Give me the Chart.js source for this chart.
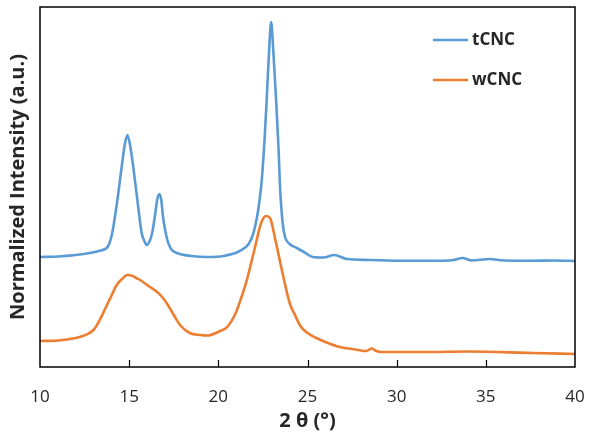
<!DOCTYPE html>
<html>
<head>
<meta charset="utf-8">
<script src="https://cdn.jsdelivr.net/npm/chart.js@4.4.1/dist/chart.umd.min.js"></script>
<style>
  html, body { margin: 0; padding: 0; background: #fff; }
  #wrap { width: 590px; height: 438px; }
</style>
</head>
<body>
<div id="wrap"><canvas id="xrdChart"></canvas></div>
<script>
// XRD patterns ‚Äî values (offset, arbitrary units)
const tcncTheta = [10.0, 11.0, 12.0, 12.8, 13.4, 13.74, 13.9, 14.05, 14.34, 14.58, 14.75, 14.9, 15.05, 15.23, 15.46, 15.7, 15.85, 15.98, 16.15, 16.3, 16.45, 16.58, 16.69, 16.8, 16.9, 17.14, 17.35, 17.67, 18.5, 19.4, 20.3, 21.2, 21.7, 21.95, 22.15, 22.3, 22.45, 22.6, 22.71, 22.85, 22.96, 23.08, 23.24, 23.38, 23.46, 23.6, 23.74, 24.0, 24.4, 24.8, 25.3, 25.9, 26.5, 27.2, 28.5, 30.2, 32.6, 33.2, 33.7, 34.2, 35.2, 36.0, 37.6, 38.8, 40.0];
const tcncIntensity = [110, 110.5, 112, 114, 116.5, 119, 124, 134, 167, 200, 222, 232, 222, 200, 167, 134, 126, 122, 126, 135, 152, 168, 173, 167, 150, 127, 118, 114, 111, 110, 111, 116, 123, 133, 148, 165, 190, 230, 267, 317, 345, 317, 267, 217, 180, 145, 130, 123, 119, 115, 110, 109.5, 112, 108, 107, 106.3, 106.3, 107, 109, 106.5, 108, 106.5, 106.3, 106.5, 106];

const wcncTheta = [10.0, 11.0, 12.0, 12.4, 13.0, 13.35, 13.7, 14.0, 14.3, 14.6, 14.9, 15.2, 15.4, 15.7, 16.0, 16.5, 16.8, 17.1, 17.5, 17.85, 18.4, 19.0, 19.4, 20.1, 20.5, 21.0, 21.3, 21.6, 22.06, 22.4, 22.68, 22.9, 23.2, 23.6, 24.0, 24.3, 24.6, 25.0, 25.5, 26.0, 26.8, 27.5, 28.3, 28.6, 28.8, 29.1, 32.0, 33.9, 37.6, 40.0];
const wcncIntensity = [26, 26.5, 29, 31, 37, 47, 60, 71, 82, 88, 92, 91, 89, 86, 82, 76, 71, 64, 52, 42, 34, 32, 31.5, 36, 40, 55, 70, 87, 120, 144, 151, 149, 127, 94, 64, 52, 41, 34, 29, 25, 20, 18, 16, 18.5, 16.5, 15, 15, 15.5, 14, 13];

const seriesLabels = ['tCNC', 'wCNC'];
const xTicks = [10, 15, 20, 25, 30, 35, 40];

const COLORS = {
  blue:   '#5b9bd5',
  orange: '#ed7d31',
  frame:  '#000000',
  text:   '#262626',
};
const FONT = "'Open Sans', 'Liberation Sans', sans-serif";

function toPoints(xs, ys) {
  return xs.map((x, i) => ({ x, y: ys[i] }));
}

// frame, inward tick marks and the in-plot legend
const framePlugin = {
  id: 'frame',
  afterDraw(chart) {
    const { ctx, chartArea: a, scales } = chart;
    ctx.save();
    ctx.strokeStyle = COLORS.frame;
    ctx.lineWidth = 1.5;
    ctx.strokeRect(a.left, a.top, a.right - a.left, a.bottom - a.top);

    ctx.lineWidth = 1.2;
    xTicks.slice(1, -1).forEach(v => {
      const px = Math.round(scales.x.getPixelForValue(v)) + 0.5;
      ctx.beginPath();
      ctx.moveTo(px, a.bottom);
      ctx.lineTo(px, a.bottom - 7);
      ctx.stroke();
    });

    // legend
    ctx.font = `bold 17px ${FONT}`;
    ctx.textBaseline = 'middle';
    chart.data.datasets.forEach((ds, i) => {
      const y = a.top + 33 + i * 40;
      const x0 = a.right - 142;
      ctx.strokeStyle = ds.borderColor;
      ctx.lineWidth = 2.5;
      ctx.beginPath();
      ctx.moveTo(x0, y);
      ctx.lineTo(x0 + 35, y);
      ctx.stroke();
      ctx.fillStyle = COLORS.text;
      ctx.fillText(ds.label, x0 + 39, y);
    });
    ctx.restore();
  }
};

new Chart(document.getElementById('xrdChart').getContext('2d'), {
  type: 'line',
  data: {
    datasets: [
      {
        label: seriesLabels[0],
        data: toPoints(tcncTheta, tcncIntensity),
        borderColor: COLORS.blue,
        borderWidth: 2.6,
        pointRadius: 0,
        cubicInterpolationMode: 'monotone',
        fill: false,
      },
      {
        label: seriesLabels[1],
        data: toPoints(wcncTheta, wcncIntensity),
        borderColor: COLORS.orange,
        borderWidth: 2.6,
        pointRadius: 0,
        cubicInterpolationMode: 'monotone',
        fill: false,
      }
    ]
  },
  options: {
    responsive: true,
    maintainAspectRatio: false,
    animation: false,
    layout: { padding: { top: 7, right: 15, left: 3, bottom: 0 } },
    plugins: {
      legend: { display: false },
      tooltip: { enabled: false },
    },
    scales: {
      x: {
        type: 'linear',
        min: 10,
        max: 40,
        afterBuildTicks: scale => { scale.ticks = xTicks.map(v => ({ value: v })); },
        afterFit: scale => {
          scale.height = 71;
          scale.paddingLeft = 0;
          scale.paddingRight = 0;
        },
        grid: { display: false, drawTicks: false },
        border: { display: false },
        ticks: {
          padding: 20,
          color: COLORS.text,
          font: { family: FONT, size: 17 },
          maxRotation: 0,
        },
        title: {
          display: true,
          text: '2 θ (°)',
          color: COLORS.text,
          font: { family: FONT, size: 20, weight: 'bold' },
          padding: { top: 0, bottom: 5 },
        }
      },
      y: {
        min: 0,
        max: 360,
        afterFit: scale => { scale.width = 37; },
        grid: { display: false, drawTicks: false },
        border: { display: false },
        ticks: { display: false },
        title: {
          display: true,
          text: 'Normalized Intensity (a.u.)',
          color: COLORS.text,
          font: { family: FONT, size: 20, weight: 'bold' },
          padding: { top: 3, bottom: 3 },
        }
      }
    }
  },
  plugins: [framePlugin]
});
</script>
</body>
</html>
